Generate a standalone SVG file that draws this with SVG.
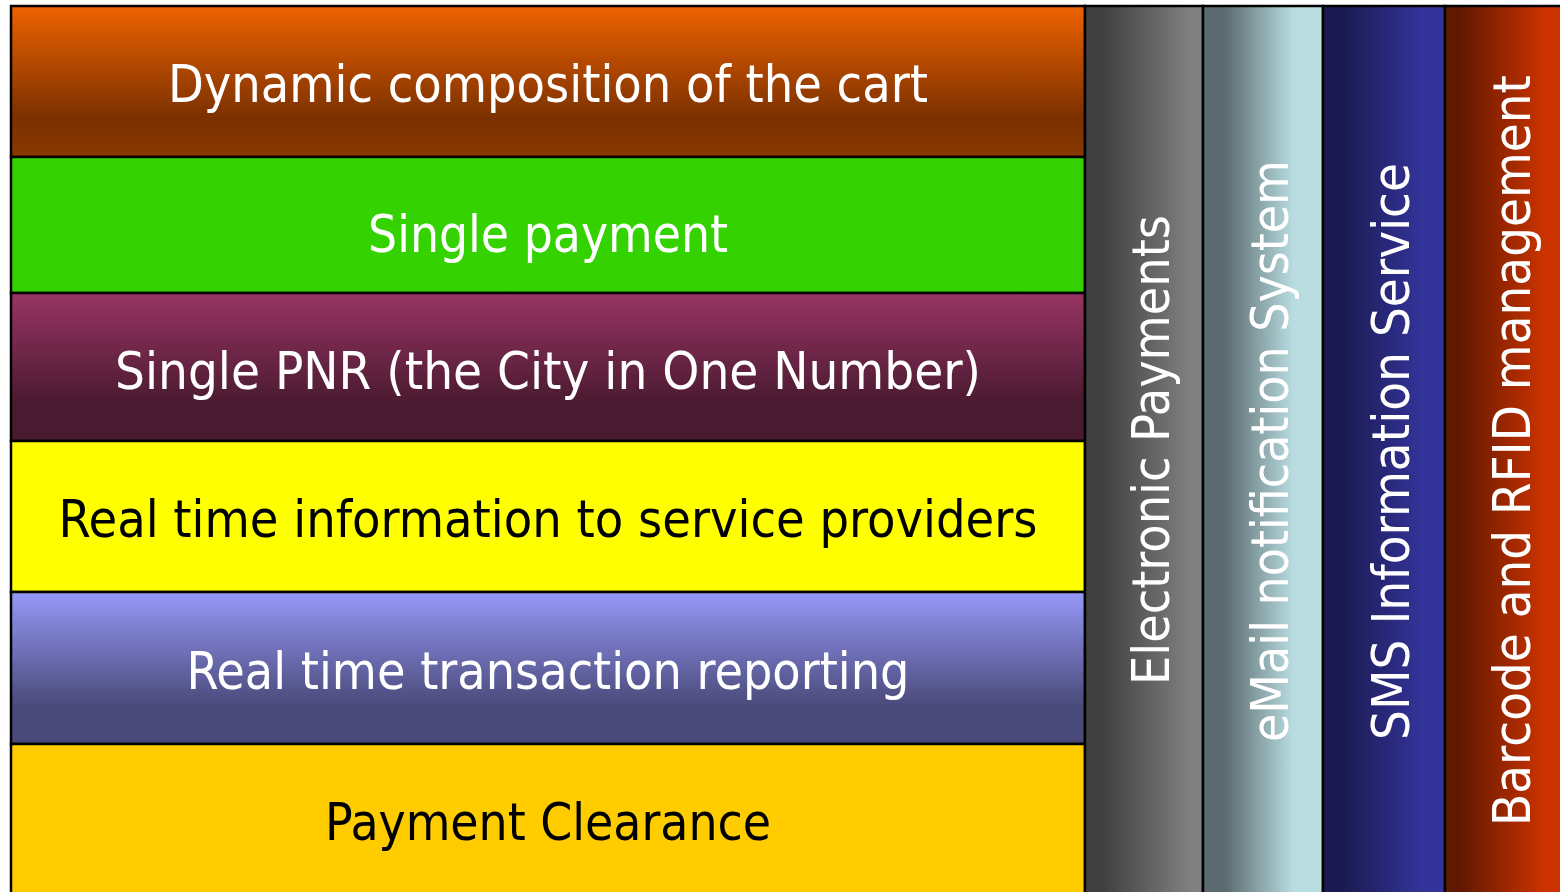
<svg xmlns="http://www.w3.org/2000/svg" width="1560" height="892" viewBox="0 0 1560 892">
<style>
.band{stroke:#000;stroke-width:2.5}
.t{font-family:"DejaVu Sans Condensed","DejaVu Sans",sans-serif;font-size:52px;text-anchor:middle}
.w{fill:#fff}
.k{fill:#000}
</style>
<defs>
<linearGradient id="gRow1" x1="0" y1="0" x2="0" y2="1">
<stop offset="0" stop-color="#EE6200"/><stop offset="0.75" stop-color="#7A3000"/><stop offset="1" stop-color="#8A3A00"/>
</linearGradient>
<linearGradient id="gRow3" x1="0" y1="0" x2="0" y2="1">
<stop offset="0" stop-color="#983463"/><stop offset="0.75" stop-color="#4A1A30"/><stop offset="1" stop-color="#4A1A30"/>
</linearGradient>
<linearGradient id="gRow5" x1="0" y1="0" x2="0" y2="1">
<stop offset="0" stop-color="#9698F8"/><stop offset="0.75" stop-color="#4A4A7A"/><stop offset="1" stop-color="#4A4A7A"/>
</linearGradient>
<linearGradient id="gCol1" x1="0" y1="0" x2="1" y2="0">
<stop offset="0.15" stop-color="#404040"/><stop offset="0.9" stop-color="#808080"/>
</linearGradient>
<linearGradient id="gCol2" x1="0" y1="0" x2="1" y2="0">
<stop offset="0.18" stop-color="#5A6A6E"/><stop offset="0.75" stop-color="#B8DCE0"/>
</linearGradient>
<linearGradient id="gCol3" x1="0" y1="0" x2="1" y2="0">
<stop offset="0.15" stop-color="#1A1A50"/><stop offset="0.8" stop-color="#333399"/>
</linearGradient>
<linearGradient id="gCol4" x1="0" y1="0" x2="1" y2="0">
<stop offset="0.12" stop-color="#601800"/><stop offset="0.85" stop-color="#CC3300"/>
</linearGradient>
</defs>
<rect width="1560" height="892" fill="#fff"/>
<g id="row-cart">
<rect class="band" x="11" y="6" width="1074" height="151" fill="url(#gRow1)"/>
<text class="t w" x="548" y="102" textLength="760" lengthAdjust="spacingAndGlyphs">Dynamic composition of the cart</text>
</g>
<g id="row-single-payment">
<rect class="band" x="11" y="157" width="1074" height="136" fill="#33D200"/>
<text class="t w" x="548" y="252" textLength="360" lengthAdjust="spacingAndGlyphs">Single payment</text>
</g>
<g id="row-pnr">
<rect class="band" x="11" y="293" width="1074" height="148" fill="url(#gRow3)"/>
<text class="t w" x="548" y="389" textLength="866" lengthAdjust="spacingAndGlyphs">Single PNR (the City in One Number)</text>
</g>
<g id="row-realtime-info">
<rect class="band" x="11" y="441" width="1074" height="151" fill="#FFFF00"/>
<text class="t k" x="548" y="537" textLength="979" lengthAdjust="spacingAndGlyphs">Real time information to service providers</text>
</g>
<g id="row-reporting">
<rect class="band" x="11" y="592" width="1074" height="152" fill="url(#gRow5)"/>
<text class="t w" x="548" y="689" textLength="723" lengthAdjust="spacingAndGlyphs">Real time transaction reporting</text>
</g>
<g id="row-clearance">
<rect class="band" x="11" y="744" width="1074" height="150" fill="#FFCC00"/>
<text class="t k" x="548" y="840" textLength="446" lengthAdjust="spacingAndGlyphs">Payment Clearance</text>
</g>
<g id="col-electronic-payments">
<rect class="band" x="1085" y="6" width="118" height="888" fill="url(#gCol1)"/>
<text class="t w" transform="translate(1169,450) rotate(-90)" x="0" y="0" textLength="470" lengthAdjust="spacingAndGlyphs">Electronic Payments</text>
</g>
<g id="col-email">
<rect class="band" x="1203" y="6" width="120" height="888" fill="url(#gCol2)"/>
<text class="t w" transform="translate(1288,451) rotate(-90)" x="0" y="0" textLength="582" lengthAdjust="spacingAndGlyphs">eMail notification System</text>
</g>
<g id="col-sms">
<rect class="band" x="1323" y="6" width="122" height="888" fill="url(#gCol3)"/>
<text class="t w" transform="translate(1409,451.5) rotate(-90)" x="0" y="0" textLength="577" lengthAdjust="spacingAndGlyphs">SMS Information Service</text>
</g>
<g id="col-barcode">
<rect class="band" x="1445" y="6" width="118" height="888" fill="url(#gCol4)"/>
<text class="t w" transform="translate(1530,450.5) rotate(-90)" x="0" y="0" textLength="751" lengthAdjust="spacingAndGlyphs">Barcode and RFID management</text>
</g>
</svg>
